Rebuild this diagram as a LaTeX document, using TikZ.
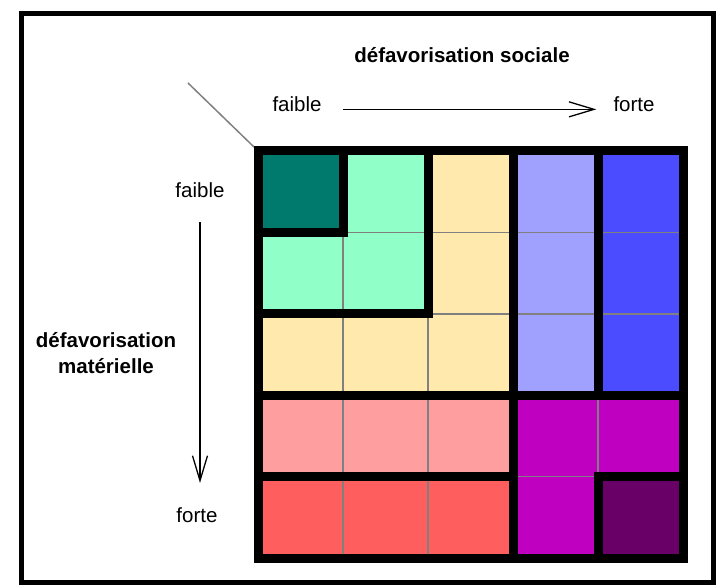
\documentclass[tikz,border=0pt]{standalone}
\usepackage{fontspec}
\setmainfont{Liberation Sans}
\usetikzlibrary{arrows.meta}

\definecolor{cteal}{RGB}{0,122,108}
\definecolor{cmint}{RGB}{144,255,200}
\definecolor{cyellow}{RGB}{255,233,172}
\definecolor{clavender}{RGB}{160,160,255}
\definecolor{cblue}{RGB}{75,75,255}
\definecolor{cpink}{RGB}{255,158,158}
\definecolor{cred}{RGB}{255,94,94}
\definecolor{cmagenta}{RGB}{192,0,192}
\definecolor{cpurple}{RGB}{104,0,104}

% regions of the 5x5 grid (one unit = one cell)
\def\regteal{(0,0) -- (1,0) -- (1,1) -- (0,1) -- cycle}
\def\regmint{(1,0) -- (2,0) -- (2,2) -- (0,2) -- (0,1) -- (1,1) -- cycle}
\def\regyellow{(2,0) -- (3,0) -- (3,3) -- (0,3) -- (0,2) -- (2,2) -- cycle}
\def\reglavender{(3,0) -- (4,0) -- (4,3) -- (3,3) -- cycle}
\def\regblue{(4,0) -- (5,0) -- (5,3) -- (4,3) -- cycle}
\def\regpink{(0,3) -- (3,3) -- (3,4) -- (0,4) -- cycle}
\def\regred{(0,4) -- (3,4) -- (3,5) -- (0,5) -- cycle}
\def\regmagenta{(3,3) -- (5,3) -- (5,4) -- (4,4) -- (4,5) -- (3,5) -- cycle}
\def\regpurple{(4,4) -- (5,4) -- (5,5) -- (4,5) -- cycle}

\begin{document}
\begin{tikzpicture}[x=1pt,y=-1pt,
	lbl/.style={inner sep=0pt,font=\fontsize{20.5}{26}\selectfont},
	hd/.style={inner sep=0pt,font=\fontsize{20.5}{26}\selectfont\bfseries},
	arr/.style={line width=1.3pt,-{Straight Barb[length=25pt,width=15pt]}},
	region/.style={line width=9pt,line join=miter},
	cellline/.style={line width=1.5pt,gray}]
			\useasboundingbox (0,0) rectangle (719,588);

			% outer frame
			\draw[line width=5pt] (21,14) rectangle (713,582);

			% social axis
			\node[hd,anchor=base] (soctitle) at (462,63) {défavorisation sociale};
			\node[lbl,anchor=base] (sfaible) at (297,112) {faible};
			\node[lbl,anchor=base] (sforte) at (634,112) {forte};
			\draw[arr,shorten <=21pt,shorten >=17pt] (sfaible.mid east) -- (sforte.mid west);

			% material axis
			\node[hd,align=center] (mattitle) at (106,353) {défavorisation\\matérielle};
			\node[lbl,anchor=base] (mfaible) at (200,197) {faible};
			\node[lbl,anchor=base] (mforte) at (197,522) {forte};
			\draw[arr,shorten <=25pt,shorten >=24pt] (mfaible.south) -- (mfaible.south |- mforte.north);

			% corner line
			\coordinate (diagstart) at (188,83);
			\draw[gray,line width=1.5pt] (diagstart) -- (254,147);

			\begin{scope}[shift={(258,151)},x=85pt,y=-81.4pt]
				% cells
				\fill[cteal] \regteal;
				\fill[cmint] \regmint;
				\fill[cyellow] \regyellow;
				\fill[clavender] \reglavender;
				\fill[cblue] \regblue;
				\fill[cpink] \regpink;
				\fill[cred] \regred;
				\fill[cmagenta] \regmagenta;
				\fill[cpurple] \regpurple;

				% thin cell lines
				\foreach \i in {1,...,4} {
					\draw[cellline] (\i,0) -- (\i,5);
					\draw[cellline] (0,\i) -- (5,\i);
				}

				% region borders
				\draw[region] \regteal;
				\draw[region] \regmint;
				\draw[region] \regyellow;
				\draw[region] \reglavender;
				\draw[region] \regblue;
				\draw[region] \regpink;
				\draw[region] \regred;
				\draw[region] \regmagenta;
				\draw[region] \regpurple;
			\end{scope}
		\end{tikzpicture}
\end{document}
